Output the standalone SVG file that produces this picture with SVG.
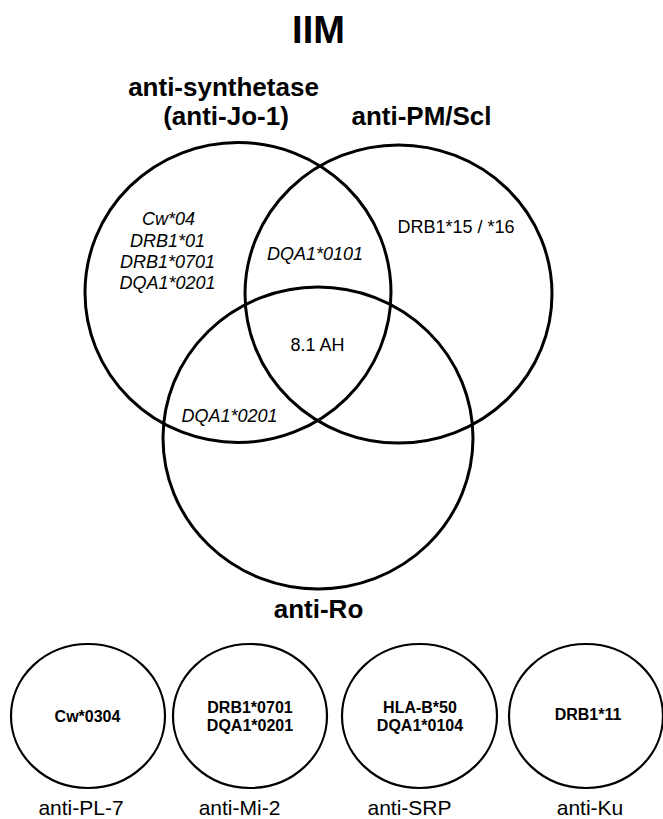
<svg xmlns="http://www.w3.org/2000/svg" width="663" height="819" viewBox="0 0 663 819">
<style>
text{font-family:"Liberation Sans",Arial,sans-serif;fill:#000;text-anchor:middle}
.big{fill:none;stroke:#000;stroke-width:3}
.small{fill:none;stroke:#000;stroke-width:2.2}
.title{font-size:38px;font-weight:bold}
.head{font-size:26px;font-weight:bold}
.it{font-size:18px;font-style:italic}
.rg{font-size:18px}
.sb{font-size:16px;font-weight:bold}
.lab{font-size:21px}
</style>
<rect width="663" height="819" fill="#fff"/>
<text id="title" class="title" x="318.5" y="43">IIM</text>
<g id="synthetase">
<ellipse class="big" cx="238" cy="292.5" rx="153" ry="150"/>
<text class="head" x="223.5" y="96">anti-synthetase</text>
<text class="head" x="226" y="124.5">(anti-Jo-1)</text>
<text class="it" x="168.5" y="225">Cw*04</text>
<text class="it" x="167.5" y="246.5">DRB1*01</text>
<text class="it" x="167.5" y="268">DRB1*0701</text>
<text class="it" x="167.5" y="289">DQA1*0201</text>
</g>
<g id="pmscl">
<ellipse class="big" cx="398.5" cy="294" rx="153.5" ry="149"/>
<text class="head" x="421.5" y="125">anti-PM/Scl</text>
<text class="rg" x="456" y="233">DRB1*15 / *16</text>
</g>
<g id="ro">
<ellipse class="big" cx="318" cy="438" rx="155" ry="151"/>
<text class="head" x="318.5" y="618">anti-Ro</text>
</g>
<g id="overlaps">
<text class="it" x="315" y="260">DQA1*0101</text>
<text class="rg" x="317.5" y="351">8.1 AH</text>
<text class="it" x="229.5" y="421.5">DQA1*0201</text>
</g>
<g id="pl7">
<ellipse class="small" cx="88" cy="716" rx="77" ry="72"/>
<text class="sb" x="87.5" y="721.5">Cw*0304</text>
<text class="lab" x="81" y="815">anti-PL-7</text>
</g>
<g id="mi2">
<ellipse class="small" cx="250" cy="716" rx="77" ry="72"/>
<text class="sb" x="250" y="712.5">DRB1*0701</text>
<text class="sb" x="250" y="730.5">DQA1*0201</text>
<text class="lab" x="239.5" y="815">anti-Mi-2</text>
</g>
<g id="srp">
<ellipse class="small" cx="419.5" cy="716" rx="77.5" ry="72"/>
<text class="sb" x="420" y="712.5">HLA-B*50</text>
<text class="sb" x="420" y="730.5">DQA1*0104</text>
<text class="lab" x="409.5" y="815">anti-SRP</text>
</g>
<g id="ku">
<ellipse class="small" cx="586" cy="716" rx="77" ry="72"/>
<text class="sb" x="588" y="720">DRB1*11</text>
<text class="lab" x="590" y="815">anti-Ku</text>
</g>
<g id="connectors"/>
</svg>
